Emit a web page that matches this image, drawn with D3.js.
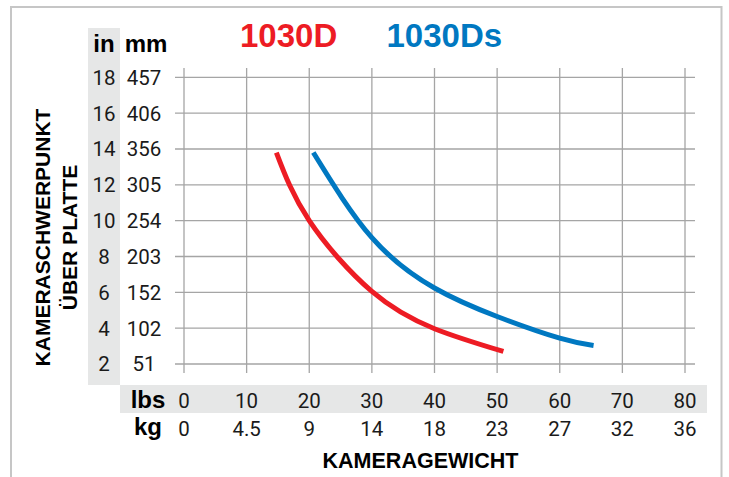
<!DOCTYPE html>
<html>
  <head>
  <title>Kameraschwerpunkt</title>
  <script src="https://d3js.org/d3.v7.min.js"></script>
  </head>
  <body>
    <svg id="svg" width="729" height="477"></svg>
  </body>
</html>

<script>
  // tick values and labels
  const lbsTicks = [0, 10, 20, 30, 40, 50, 60, 70, 80];
  const kgLabels = ["0", "4.5", "9", "14", "18", "23", "27", "32", "36"];
  const inTicks = [2, 4, 6, 8, 10, 12, 14, 16, 18];
  const mmLabels = ["51", "102", "152", "203", "254", "305", "356", "406", "457"];

  // curves (lbs -> inches)
  const redLbs = [14.75, 20, 30, 40, 51];
  const redIn = [13.8, 10.0, 6.05, 3.97, 2.7];
  const blueLbs = [20.65, 30, 40, 50, 60, 65.4];
  const blueIn = [13.8, 9.05, 6.24, 4.65, 3.44, 3.03];

  const red = "#ed1c24";
  const blue = "#0078c1";
  const gridColor = "#a5a5a5";
  const band = "#e6e7e7";

  const svg = d3.select("#svg");
  const x = d3.scaleLinear().domain([0, 80]).range([184, 685]);
  const y = d3.scaleLinear().domain([2, 18]).range([364, 77.3]);

  // frame (open at the bottom)
  svg.append("path")
    .attr("d", "M 11,477 V 7 H 721.5 V 477")
    .style("fill", "none")
    .style("stroke", "#c6c6c6")
    .style("stroke-width", 2);

  // grey bands
  svg.append("rect").attr("x", 88).attr("y", 28).attr("width", 32).attr("height", 357).style("fill", band);
  svg.append("rect").attr("x", 120).attr("y", 385).attr("width", 587).attr("height", 28).style("fill", band);

  // grid
  svg.append("g").selectAll("line").data(inTicks).join("line")
    .attr("x1", 175).attr("x2", 695)
    .attr("y1", d => y(d)).attr("y2", d => y(d))
    .style("stroke", gridColor).style("stroke-width", 1.3);
  svg.append("g").selectAll("line").data(lbsTicks).join("line")
    .attr("y1", 68).attr("y2", 373)
    .attr("x1", d => x(d)).attr("x2", d => x(d))
    .style("stroke", gridColor).style("stroke-width", 1.3);

  const num = "Roboto, sans-serif";
  const bold = "'Liberation Sans', Arial, sans-serif";

  // y labels
  svg.append("g").selectAll("text").data(inTicks).join("text")
    .attr("x", 104).attr("y", d => y(d)).attr("dy", "0.36em")
    .attr("text-anchor", "middle")
    .style("font-family", num).style("font-size", "20.5px").style("fill", "#1a1a1a")
    .text(d => d);
  svg.append("g").selectAll("text").data(inTicks).join("text")
    .attr("x", 144).attr("y", d => y(d)).attr("dy", "0.36em")
    .attr("text-anchor", "middle")
    .style("font-family", num).style("font-size", "20.5px").style("fill", "#1a1a1a")
    .text((d, i) => mmLabels[i]);

  // x labels
  svg.append("g").selectAll("text").data(lbsTicks).join("text")
    .attr("x", d => x(d)).attr("y", 407.5)
    .attr("text-anchor", "middle")
    .style("font-family", num).style("font-size", "20.5px").style("fill", "#1a1a1a")
    .text(d => d);
  svg.append("g").selectAll("text").data(lbsTicks).join("text")
    .attr("x", d => x(d)).attr("y", 435.5)
    .attr("text-anchor", "middle")
    .style("font-family", num).style("font-size", "20.5px").style("fill", "#1a1a1a")
    .text((d, i) => kgLabels[i]);

  // unit headings
  const unit = (t, px, py) => svg.append("text")
    .attr("x", px).attr("y", py).attr("text-anchor", "middle")
    .style("font-family", bold).style("font-weight", "bold").style("font-size", "24px")
    .text(t);
  unit("in", 104, 52);
  unit("mm", 146, 52);
  unit("lbs", 148, 408);
  unit("kg", 148, 435);

  // axis titles
  svg.append("text")
    .attr("x", 420.5).attr("y", 467.5).attr("text-anchor", "middle")
    .style("font-family", bold).style("font-weight", "bold").style("font-size", "21.5px")
    .text("KAMERAGEWICHT");
  const yTitle = svg.append("text")
    .attr("transform", "translate(0,237.5) rotate(-90)")
    .attr("text-anchor", "middle")
    .style("font-family", bold).style("font-weight", "bold").style("font-size", "21px");
  yTitle.append("tspan").attr("x", 0).attr("y", 49.5).text("KAMERASCHWERPUNKT");
  yTitle.append("tspan").attr("x", 0).attr("y", 77).text("ÜBER PLATTE");

  // series titles
  svg.append("text").attr("x", 240).attr("y", 46.7)
    .style("font-family", bold).style("font-weight", "bold").style("font-size", "33px")
    .style("fill", red).text("1030D");
  svg.append("text").attr("x", 386.5).attr("y", 46.7)
    .style("font-family", bold).style("font-weight", "bold").style("font-size", "33px")
    .style("fill", blue).text("1030Ds");

  // curves
  const line = d3.line()
    .x(d => x(d[0])).y(d => y(d[1]))
    .curve(d3.curveNatural);

  svg.append("path")
    .attr("d", line(d3.zip(redLbs, redIn)))
    .style("fill", "none").style("stroke", red).style("stroke-width", 5);
  svg.append("path")
    .attr("d", line(d3.zip(blueLbs, blueIn)))
    .style("fill", "none").style("stroke", blue).style("stroke-width", 5);
</script>

<style>
  body {
    margin: 0;
    background: #fff;
  }
</style>
